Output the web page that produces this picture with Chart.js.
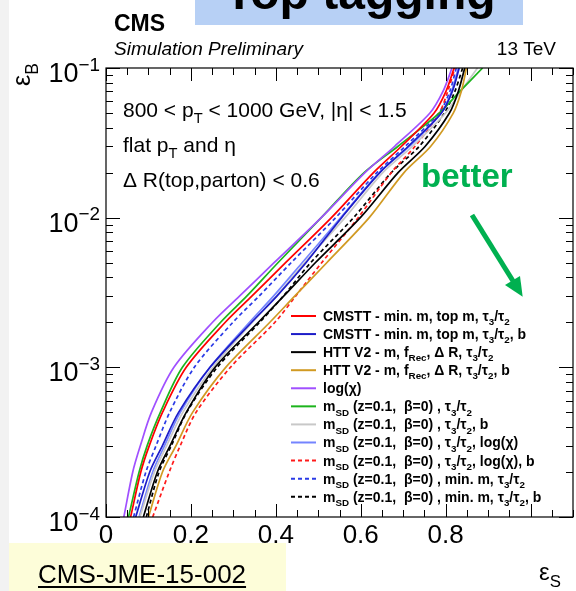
<!DOCTYPE html>
<html><head><meta charset="utf-8">
<script src="https://cdn.jsdelivr.net/npm/chart.js@4/dist/chart.umd.min.js"></script>
<style>html,body{margin:0;padding:0;background:#fff;overflow:hidden}canvas{display:block}</style>
</head><body>
<canvas id="c" width="576" height="591"></canvas>
<script>
// background efficiency grid (y values) shared by all curves
const effB = [1e-4, 2e-4, 3e-4, 5e-4, 1e-3, 2e-3, 3e-3, 5e-3, 1e-2, 2e-2, 3e-2, 5e-2, 7e-2, 1e-1];
// signal efficiency (x values) per curve
const cmsttTau   = [0.058, 0.082, 0.102, 0.133, 0.189, 0.281, 0.344, 0.423, 0.531, 0.630, 0.696, 0.773, 0.801, 0.820];
const cmsttTauB  = [0.070, 0.103, 0.133, 0.171, 0.245, 0.343, 0.403, 0.471, 0.555, 0.645, 0.712, 0.790, 0.816, 0.832];
const httTau     = [0.088, 0.121, 0.151, 0.189, 0.257, 0.359, 0.419, 0.493, 0.599, 0.688, 0.752, 0.809, 0.830, 0.845];
const httTauB    = [0.100, 0.133, 0.165, 0.204, 0.282, 0.386, 0.445, 0.520, 0.620, 0.702, 0.765, 0.818, 0.837, 0.849];
const logChi     = [0.042, 0.063, 0.081, 0.107, 0.160, 0.251, 0.315, 0.396, 0.507, 0.610, 0.680, 0.763, 0.794, 0.815];
const msdTau     = [0.053, 0.078, 0.097, 0.128, 0.180, 0.270, 0.332, 0.405, 0.507, 0.608, 0.688, 0.785, 0.834, 0.887];
const msdTauB    = [0.080, 0.114, 0.143, 0.181, 0.252, 0.345, 0.402, 0.468, 0.563, 0.652, 0.722, 0.800, 0.836, 0.875];
const msdTauChi  = [0.078, 0.110, 0.138, 0.175, 0.245, 0.338, 0.395, 0.462, 0.553, 0.644, 0.715, 0.790, 0.814, 0.830];
const msdTauChiB = [0.110, 0.149, 0.175, 0.212, 0.293, 0.398, 0.447, 0.508, 0.594, 0.672, 0.728, 0.785, 0.805, 0.822];
const msdMinTau  = [0.065, 0.094, 0.118, 0.150, 0.208, 0.299, 0.361, 0.436, 0.541, 0.638, 0.705, 0.784, 0.810, 0.825];
const msdMinTauB = [0.095, 0.125, 0.154, 0.190, 0.262, 0.362, 0.418, 0.482, 0.583, 0.672, 0.738, 0.797, 0.822, 0.840];

const seriesLabels = [
  "CMSTT - min. m, top m, τ_{3}/τ_{2}",
  "CMSTT - min. m, top m, τ_{3}/τ_{2}, b",
  "HTT V2 - m, f_{Rec}, Δ R, τ_{3}/τ_{2}",
  "HTT V2 - m, f_{Rec}, Δ R, τ_{3}/τ_{2}, b",
  "log(χ)",
  "m_{SD} (z=0.1,  β=0) , τ_{3}/τ_{2}",
  "m_{SD} (z=0.1,  β=0) , τ_{3}/τ_{2}, b",
  "m_{SD} (z=0.1,  β=0) , τ_{3}/τ_{2}, log(χ)",
  "m_{SD} (z=0.1,  β=0) , τ_{3}/τ_{2}, log(χ), b",
  "m_{SD} (z=0.1,  β=0) , min. m, τ_{3}/τ_{2}",
  "m_{SD} (z=0.1,  β=0) , min. m, τ_{3}/τ_{2}, b"
];
const seriesValues = [cmsttTau, cmsttTauB, httTau, httTauB, logChi, msdTau, msdTauB, msdTauChi, msdTauChiB, msdMinTau, msdMinTauB];
const seriesColors = ['#ff0000','#1c1cc8','#000000','#d19a22','#a050ff','#1cb41c','#c8c8c8','#7484ff','#ff1a1a','#2a3ae6','#000000'];
const seriesDashed = [false,false,false,false,false,false,false,false,true,true,true];

const xTickLabels = ['0','0.2','0.4','0.6','0.8','1'];
const yTickExponents = [-4,-3,-2,-1];

const FAM = "'Liberation Sans', Arial, Helvetica, sans-serif";

function parseRich(s){
  const out=[]; let i=0, buf='';
  while(i<s.length){
    const c=s[i];
    if((c==='_'||c==='^') && s[i+1]==='{'){
      if(buf){out.push({t:buf,m:0});buf='';}
      const j=s.indexOf('}',i);
      out.push({t:s.slice(i+2,j), m:c==='_'?1:2});
      i=j+1;
    } else {buf+=c;i++;}
  }
  if(buf) out.push({t:buf,m:0});
  return out;
}
function richWidth(ctx,s,size,pre){
  let w=0;
  for(const g of parseRich(s)){
    const sz = g.m? size*0.7 : size;
    ctx.font = pre+' '+sz+'px '+FAM;
    w += ctx.measureText(g.t).width;
  }
  return w;
}
function drawRich(ctx,s,x,y,size,pre,align){
  pre = pre||'';
  let w = richWidth(ctx,s,size,pre);
  let cx = align==='right'? x-w : align==='center'? x-w/2 : x;
  ctx.textBaseline='alphabetic'; ctx.textAlign='left';
  for(const g of parseRich(s)){
    const sz = g.m? size*0.7 : size;
    ctx.font = pre+' '+sz+'px '+FAM;
    const dy = g.m===1? size*0.3 : g.m===2? -size*0.42 : 0;
    ctx.fillText(g.t,cx,y+dy);
    cx += ctx.measureText(g.t).width;
  }
}

const decor = {
  id:'decor',
  beforeDraw(chart){
    const ctx=chart.ctx;
    ctx.save();
    ctx.fillStyle='#ffffff'; ctx.fillRect(0,0,576,591);
    ctx.fillStyle='#f2f2f2'; ctx.fillRect(0,0,9,591);
    // title box (cut at top)
    ctx.fillStyle='#b7d0f5'; ctx.fillRect(195,0,328,25);
    ctx.fillStyle='#000';
    ctx.font='bold 48px '+FAM; ctx.textAlign='center'; ctx.textBaseline='alphabetic';
    ctx.fillText('Top tagging',360,9);
    // reference box
    ctx.fillStyle='#fdfdd9'; ctx.fillRect(9,543,277,48);
    ctx.fillStyle='#000'; ctx.font='26px '+FAM; ctx.textAlign='left';
    ctx.fillText('CMS-JME-15-002',38,583);
    const tw=ctx.measureText('CMS-JME-15-002').width;
    ctx.fillRect(38,586,tw,2);
    ctx.restore();
  },
  afterDatasetsDraw(chart){
    const ctx=chart.ctx, a=chart.chartArea, xs=chart.scales.x, ys=chart.scales.y;
    ctx.save();
    ctx.strokeStyle='#000'; ctx.lineWidth=1.2;
    ctx.strokeRect(a.left,a.top,a.right-a.left,a.bottom-a.top);
    ctx.lineWidth=1;
    ctx.beginPath();
    for(let i=0;i<=22;i++){
      const v=i*0.05, px=Math.round(xs.getPixelForValue(v))+0.5;
      const L = (i%4===0)? 13 : 7;
      ctx.moveTo(px,a.bottom); ctx.lineTo(px,a.bottom-L);
      ctx.moveTo(px,a.top); ctx.lineTo(px,a.top+L);
    }
    for(let e=-4;e<=-1;e++){
      for(let m=1;m<=9;m++){
        if(e===-1 && m>1) break;
        const v=m*Math.pow(10,e), py=Math.round(ys.getPixelForValue(v))+0.5;
        const L = m===1? 14 : 7;
        ctx.moveTo(a.left,py); ctx.lineTo(a.left+L,py);
        ctx.moveTo(a.right,py); ctx.lineTo(a.right-L,py);
      }
    }
    ctx.stroke();
    ctx.fillStyle='#000';
    for(const e of yTickExponents){
      const py=ys.getPixelForValue(Math.pow(10,e));
      drawRich(ctx,'10^{−'+(-e)+'}',100,py+14,27,'','right');
    }
    ctx.save(); ctx.translate(30,86); ctx.rotate(-Math.PI/2);
    drawRich(ctx,'ε_{B}',0,0,25,'','left'); ctx.restore();
    drawRich(ctx,'ε_{S}',539,580,24,'','left');
    ctx.font='bold 23px '+FAM; ctx.textAlign='left'; ctx.textBaseline='alphabetic';
    ctx.fillText('CMS',114,31);
    ctx.font='italic 19px '+FAM; ctx.fillText('Simulation Preliminary',114,55);
    ctx.font='19px '+FAM; ctx.textAlign='right'; ctx.fillText('13 TeV',556,55);
    drawRich(ctx,'800 < p_{T} < 1000 GeV, |η| < 1.5',123,117,21,'','left');
    drawRich(ctx,'flat p_{T} and η',123,152,21,'','left');
    drawRich(ctx,'Δ R(top,parton) < 0.6',123,187,21,'','left');
    const ds=chart.data.datasets;
    for(let i=0;i<ds.length;i++){
      const y=316+i*18.07;
      ctx.strokeStyle=ds[i].borderColor; ctx.lineWidth=2;
      ctx.setLineDash(ds[i].borderDash||[]);
      ctx.beginPath(); ctx.moveTo(291,y); ctx.lineTo(316,y); ctx.stroke();
      ctx.setLineDash([]);
      ctx.fillStyle='#000';
      drawRich(ctx,ds[i].label,323,y+5,14,'bold','left');
    }
    ctx.fillStyle='#00b050'; ctx.font='bold 33px '+FAM; ctx.textAlign='left';
    ctx.fillText('better',421,187);
    ctx.strokeStyle='#00b050'; ctx.lineWidth=5;
    ctx.beginPath(); ctx.moveTo(472,215); ctx.lineTo(513,281); ctx.stroke();
    ctx.beginPath(); ctx.moveTo(522.7,296.7); ctx.lineTo(505,285); ctx.lineTo(520,276); ctx.closePath(); ctx.fill();
    ctx.restore();
  }
};

const datasets = seriesValues.map((vals,k)=>({
  label: seriesLabels[k],
  data: effB.map((b,i)=>({x: vals[i], y: b})),
  borderColor: seriesColors[k],
  backgroundColor: seriesColors[k],
  borderWidth: 1.7,
  borderDash: seriesDashed[k]? [4,3] : [],
  showLine: true, pointRadius: 0, tension: 0.3, fill: false
}));

new Chart(document.getElementById('c'), {
  type: 'scatter',
  data: { datasets },
  options: {
    responsive: false, animation: false, devicePixelRatio: 1,
    layout: { padding: { left: 106, top: 68, right: 3, bottom: 0 } },
    plugins: { legend: { display: false }, tooltip: { enabled: false } },
    scales: {
      x: {
        type: 'linear', min: 0, max: 1.1,
        grid: { display: false, drawTicks: false }, border: { display: false },
        afterFit(s){ s.height = 74; },
        ticks: {
          stepSize: 0.2, autoSkip: false, maxRotation: 0, padding: 3,
          color: '#000', font: { size: 26, family: FAM },
          callback(v){ const k = Math.round(v/0.2); return (Math.abs(v - k*0.2) < 1e-6 && k < xTickLabels.length) ? xTickLabels[k] : ''; }
        }
      },
      y: { type: 'logarithmic', min: 1e-4, max: 1e-1, display: false }
    }
  },
  plugins: [decor]
});
</script>
</body></html>
